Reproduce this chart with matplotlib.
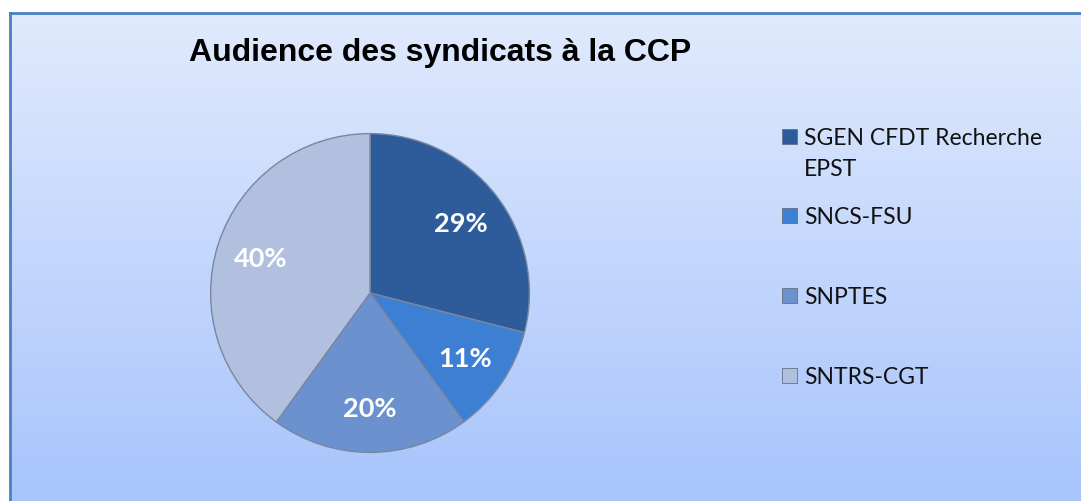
import numpy as np
import matplotlib.pyplot as plt
from matplotlib.patches import Rectangle

# data
labels = ["SGEN CFDT Recherche\nEPST", "SNCS-FSU", "SNPTES", "SNTRS-CGT"]
shares = [29, 11, 20, 40]
colors = ["#2e5c9a", "#3d80d3", "#6c91cf", "#b2c0df"]
title = "Audience des syndicats à la CCP"

W, H = 1081, 502
fig = plt.figure(figsize=(W / 100, H / 100), dpi=100)
fig.patch.set_facecolor("white")

# background panel with vertical gradient
bg = fig.add_axes([10 / W, 0, 1 - 10 / W, (H - 14) / H])
grad = np.linspace(0, 1, 256).reshape(-1, 1)
top = np.array([0.878, 0.918, 0.992])
bot = np.array([0.659, 0.769, 0.988])
img = top + (bot - top) * grad[:, :, None]
bg.imshow(img, aspect="auto", extent=[0, 1, 0, 1], origin="upper")
bg.set_xlim(0, 1)
bg.set_ylim(0, 1)
bg.set_xticks([])
bg.set_yticks([])
for name, s in bg.spines.items():
    s.set_color("#4a7fc4")
    s.set_linewidth(2)
    if name in ("right", "bottom"):
        s.set_visible(False)

fig.text(440 / W, 1 - 53 / H, title, ha="center", va="center",
         fontsize=23, fontweight="bold", family="Liberation Sans")

# pie
cx, cy, r = 370, 294, 161
ax = fig.add_axes([(cx - r) / W, (H - cy - r) / H, 2 * r / W, 2 * r / H])
wedges, texts, autotexts = ax.pie(
    shares, colors=colors, startangle=90, counterclock=False,
    autopct="%1.0f%%", pctdistance=0.72,
    wedgeprops=dict(edgecolor="#7a86a0", linewidth=1),
    textprops=dict(color="white", fontsize=19.5, fontweight="bold", family="Lato"))
ax.set_xlim(-1.01, 1.01)
ax.set_ylim(-1.01, 1.01)
ax.set_aspect("equal")
ax.axis("off")

# legend (manual, as laid out in the original)
leg_y = [137, 216, 296, 376]
for lab, col, y in zip(labels, colors, leg_y):
    fig.patches.append(Rectangle((782 / W, 1 - (y + 8) / H), 15 / W, 15 / H,
                                 transform=fig.transFigure, facecolor=col,
                                 edgecolor="#667080", linewidth=0.6))
    for i, line in enumerate(lab.split("\n")):
        fig.text(804 / W, 1 - (y + 8 + 31 * i) / H, line, ha="left", va="baseline",
                 fontsize=16.5, family="Lato", color="#111111")

fig.savefig("out.png", dpi=100)
